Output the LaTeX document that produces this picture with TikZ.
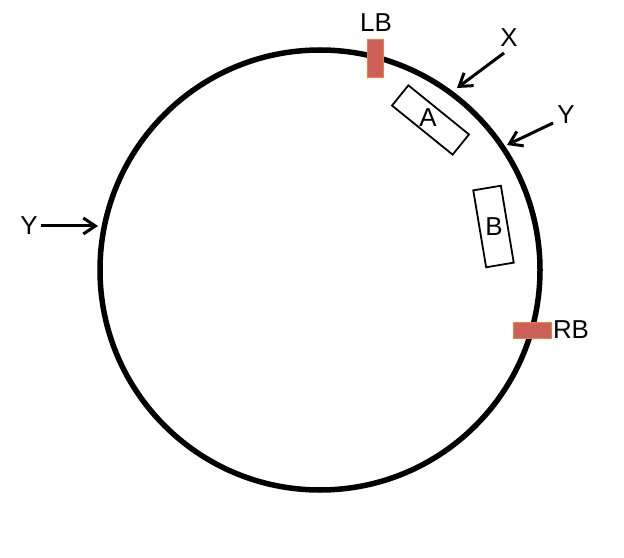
\documentclass[tikz,border=0pt]{standalone}
\usepackage{fontspec}
\setmainfont{Liberation Sans}
\usetikzlibrary{arrows.meta}
\definecolor{barfill}{RGB}{205,96,88}
\definecolor{barline}{RGB}{236,132,56}

\begin{document}
\begin{tikzpicture}[x=1bp,y=-1bp,
  lbl/.style={inner sep=0pt,font=\fontsize{26}{30}\selectfont},
  ptr/.style={line width=3bp,-{Straight Barb[length=12bp,width=16bp,line width=3bp]}},
  bar/.style={fill=barfill,draw=barline,line width=1bp},
  box/.style={draw,line width=1.8bp,inner sep=0pt}]
\useasboundingbox (0,0) rectangle (624,558);
\coordinate (c) at (320,270);
\draw[line width=5.5bp] (c) circle[radius=220];
\draw[bar] (367,40) rectangle (383,78);
\draw[bar] (513,322) rectangle (551,338);
\node[lbl] (lb) at (376,23) {LB};
\node[lbl] (rb) at (571,330) {RB};
\node[box,minimum width=78bp,minimum height=26bp,rotate=-39] (boxa) at (430.5,120) {};
\node[box,minimum width=28bp,minimum height=78bp,rotate=9.5] (boxb) at (493.5,226.5) {};
\node[lbl] (a) at (428,118) {A};
\node[lbl] (b) at (494,227) {B};
\node[lbl] (x) at (509,38) {X};
\node[lbl] (yr) at (566,115) {Y};
\node[lbl] (yl) at (29,226) {Y};
\coordinate (xs) at (504,53);
\coordinate (xe) at (457,88);
\coordinate (yrs) at (553,123);
\coordinate (yre) at (507,145);
\coordinate (ye) at (98,226);
\draw[ptr] (xs) -- (xe);
\draw[ptr] (yrs) -- (yre);
\draw[ptr] (yl.east) ++(3,0) -- (ye);
\end{tikzpicture}
\end{document}
